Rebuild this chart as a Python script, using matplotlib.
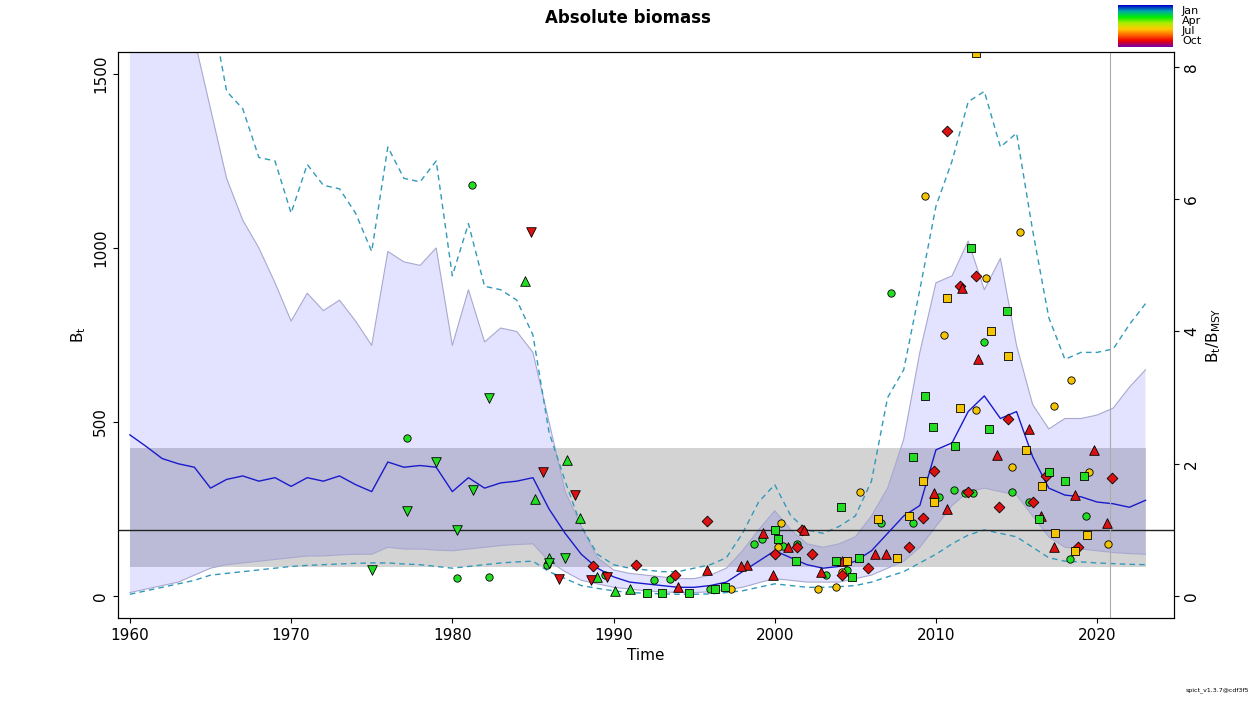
import numpy as np
import matplotlib.pyplot as plt
from matplotlib.colors import LinearSegmentedColormap

# ---- data ----
years = np.arange(1960, 2024)
b_med = [463, 430, 395, 380, 370, 310, 335, 345, 330, 340, 315, 340, 330, 345, 320, 300,
         385, 370, 375, 370, 300, 340, 310, 325, 330, 340, 250, 180, 120, 80, 55, 40,
         35, 30, 25, 25, 30, 40, 70, 100, 130, 110, 90, 80, 85, 100, 130, 180, 230, 260,
         420, 440, 530, 575, 510, 530, 400, 310, 290, 285, 270, 265, 255, 275]
b_hi = [3000, 2500, 2100, 1800, 1600, 1400, 1200, 1080, 1000, 900, 790, 870, 820, 850, 790, 720,
        990, 960, 950, 1000, 720, 880, 730, 770, 760, 700, 500, 300, 200, 110, 75, 65,
        60, 55, 50, 50, 60, 80, 130, 190, 245, 190, 150, 140, 150, 170, 230, 310, 450, 700,
        900, 920, 1020, 880, 970, 720, 550, 480, 510, 510, 520, 540, 600, 650]
b_lo = [10, 20, 30, 40, 60, 80, 90, 95, 100, 105, 110, 115, 115, 118, 120, 120,
        140, 135, 135, 132, 130, 135, 140, 145, 148, 150, 100, 70, 45, 35, 25, 20,
        15, 12, 10, 10, 12, 18, 25, 38, 50, 45, 40, 40, 40, 50, 60, 80, 100, 140,
        200, 260, 300, 310, 300, 290, 230, 170, 140, 135, 130, 125, 122, 120]
d_hi = [4000, 3500, 3000, 2500, 2000, 1700, 1450, 1400, 1260, 1250, 1100, 1240, 1180, 1170, 1100, 990,
        1290, 1200, 1190, 1250, 920, 1070, 890, 880, 850, 750, 470, 330, 200, 120, 90, 80,
        75, 70, 70, 80, 90, 110, 180, 270, 320, 230, 190, 180, 200, 230, 330, 570, 650, 880,
        1120, 1250, 1420, 1450, 1290, 1330, 1050, 800, 680, 700, 700, 710, 780, 840]
d_lo = [5, 15, 25, 35, 45, 60, 65, 70, 75, 80, 85, 88, 90, 92, 94, 95,
        95, 92, 90, 85, 80, 85, 90, 95, 98, 100, 70, 50, 30, 22, 15, 10,
        8, 6, 5, 5, 6, 10, 15, 25, 35, 30, 25, 25, 27, 30, 40, 55, 70, 95,
        120, 150, 175, 190, 180, 170, 140, 110, 100, 98, 95, 93, 91, 90]
bmsy = 190
bmsy_lo, bmsy_hi = 83, 425
last_obs = 2020.8

green_circ = [(1977.2, 455), (1980.3, 52), (1981.2, 1180), (1982.3, 55), (1985.9, 90), (1989.5, 60),
              (1992.5, 45), (1993.5, 50), (1996.0, 20), (1998.7, 150), (1999.2, 165), (2000.5, 145),
              (2001.4, 150), (2003.2, 60), (2004.5, 75), (2006.6, 210), (2007.2, 870), (2008.6, 210),
              (2010.2, 285), (2011.1, 305), (2011.8, 295), (2012.3, 295), (2013.0, 730), (2014.7, 300),
              (2015.8, 270), (2018.3, 105), (2019.3, 230)]
yellow_circ = [(1997.3, 20), (2000.4, 210), (2002.7, 20), (2003.8, 25), (2005.3, 300), (2009.3, 1150),
               (2010.5, 750), (2012.5, 535), (2013.1, 915), (2014.7, 370), (2015.2, 1045), (2017.3, 545),
               (2018.4, 620), (2019.5, 355), (2020.7, 150), (2000.2, 140), (2004.2, 70)]
green_tup = [(1984.5, 905), (1985.1, 280), (1987.1, 390), (1987.9, 225), (1986.0, 110), (1989.0, 55),
             (1990.1, 15), (1991.0, 20)]
green_tdn = [(1977.2, 245), (1979.0, 385), (1980.3, 190), (1981.3, 305), (1982.3, 570), (1975.0, 75),
             (1986.0, 95), (1987.0, 110)]
red_tdn = [(1984.9, 1045), (1985.6, 355), (1986.6, 50), (1987.6, 290), (1988.6, 45), (1989.6, 55)]
red_diam = [(1988.7, 85), (1991.4, 90), (1993.8, 60), (1995.8, 215), (2000.0, 120), (2001.4, 140),
            (2002.3, 120), (2004.2, 60), (2010.7, 1335), (2011.5, 890), (2012.5, 920), (2013.9, 255),
            (2014.5, 510), (2012.0, 300), (2016.0, 270), (2016.8, 345), (2018.8, 140), (2020.9, 340),
            (2009.2, 225), (2009.9, 360), (2001.7, 190), (2005.8, 80), (2008.3, 140)]
red_tup = [(1995.8, 75), (1998.3, 90), (1999.9, 60), (2001.8, 190), (2002.9, 70), (2004.2, 100),
           (2006.2, 120), (2006.9, 120), (2009.9, 295), (2010.7, 250), (2011.6, 885), (2012.6, 680),
           (2013.8, 405), (2015.8, 480), (2016.5, 230), (2017.3, 140), (2018.6, 290), (2019.8, 420),
           (2020.6, 210), (1994.0, 25), (1997.9, 85), (1999.3, 180), (2000.8, 140)]
green_sq = [(1992.1, 10), (1993.0, 10), (1994.7, 10), (1996.3, 20), (2000.0, 190), (2000.2, 165),
            (2001.3, 100), (2004.1, 255), (2005.2, 110), (2008.6, 400), (2009.3, 575), (2009.8, 485),
            (2011.2, 430), (2012.2, 1000), (2013.3, 480), (2014.4, 820), (2016.4, 220), (2017.0, 355),
            (2018.0, 330), (2019.2, 345), (2003.8, 100), (2004.8, 55), (1996.9, 25)]
yellow_sq = [(2004.5, 100), (2006.4, 220), (2008.3, 230), (2009.9, 270), (2010.7, 855), (2011.5, 540),
             (2012.5, 1560), (2013.4, 760), (2014.5, 690), (2015.6, 420), (2016.6, 315), (2017.4, 180),
             (2018.6, 130), (2019.4, 175), (2007.6, 110), (2009.2, 330)]

GREEN, YELLOW, RED = '#22dd22', '#f5c400', '#dd1111'

fig = plt.figure(figsize=(12.55, 7.03), dpi=100)
ax = fig.add_axes([0.094, 0.121, 0.8415, 0.805])

ax.fill_between([1960, 2023], bmsy_lo, bmsy_hi, color='#d3d3d3', lw=0)
ax.fill_between(years, b_lo, b_hi, color=(0, 0, 1, 0.11), lw=0)
ax.plot(years, b_hi, color='#a8a8d0', lw=0.8)
ax.plot(years, b_lo, color='#a8a8d0', lw=0.8)
ax.plot(years, d_hi, color='#3399bb', lw=1, ls=(0, (4, 3)))
ax.plot(years, d_lo, color='#3399bb', lw=1, ls=(0, (4, 3)))
ax.axhline(bmsy, color='#222222', lw=1)
ax.plot(years, b_med, color='#1a1acc', lw=1)
ax.axvline(last_obs, color='#aaaaaa', lw=0.8)

groups = [(green_circ, 'o', GREEN, 28), (yellow_circ, 'o', YELLOW, 28), (green_tup, '^', GREEN, 48),
          (green_tdn, 'v', GREEN, 48), (red_tdn, 'v', RED, 48), (red_diam, 'D', RED, 30),
          (red_tup, '^', RED, 48), (green_sq, 's', GREEN, 34), (yellow_sq, 's', YELLOW, 34)]
for pts, mk, col, sz in groups:
    x, y = zip(*pts)
    ax.scatter(x, y, marker=mk, c=col, s=sz, edgecolors='black', linewidths=0.6, zorder=5)

ax.set_xlim(1959.26, 2024.77)
ax.set_ylim(-63, 1563)
ax.set_xticks([1960, 1970, 1980, 1990, 2000, 2010, 2020])
ax.set_yticks([0, 500, 1000, 1500])
for lab in ax.get_yticklabels():
    lab.set_rotation(90)
    lab.set_va('center')
ax.tick_params(labelsize=11)
ax.set_xlabel('Time', fontsize=11)
ax.set_ylabel('$\\mathregular{B_t}$', fontsize=11)
fig.text(0.5, 1 - 18 / 703, 'Absolute biomass', fontsize=12, fontweight='bold', ha='center', va='center')

ax2 = ax.twinx()
ax2.set_ylim(-63 / bmsy, 1563 / bmsy)
ax2.set_yticks([0, 2, 4, 6, 8])
for lab in ax2.get_yticklabels():
    lab.set_rotation(90)
    lab.set_va('center')
ax2.tick_params(labelsize=11)
ax2.set_ylabel('$\\mathregular{B_t/B_{MSY}}$', fontsize=11)

# season colour legend
cax = fig.add_axes([1118 / 1255, 1 - 47 / 703, 55 / 1255, 42 / 703])
cmap = LinearSegmentedColormap.from_list('season', ['#0000cc', '#00aaaa', '#00ee00', '#aaee00',
                                                    '#ffcc00', '#ff6600', '#ee0000', '#7700aa'])
cax.imshow(np.linspace(0, 1, 100).reshape(-1, 1), aspect='auto', cmap=cmap)
cax.set_axis_off()
for i, m in enumerate(['Jan', 'Apr', 'Jul', 'Oct']):
    fig.text(1182 / 1255, 1 - (11 + i * 10) / 703, m, fontsize=8, va='center', linespacing=0.8)

fig.text(0.995, 1 - 690 / 703, 'spict_v1.3.7@cdf3f5', fontsize=4.5, ha='right', va='center')

fig.savefig('out.png', dpi=100)
